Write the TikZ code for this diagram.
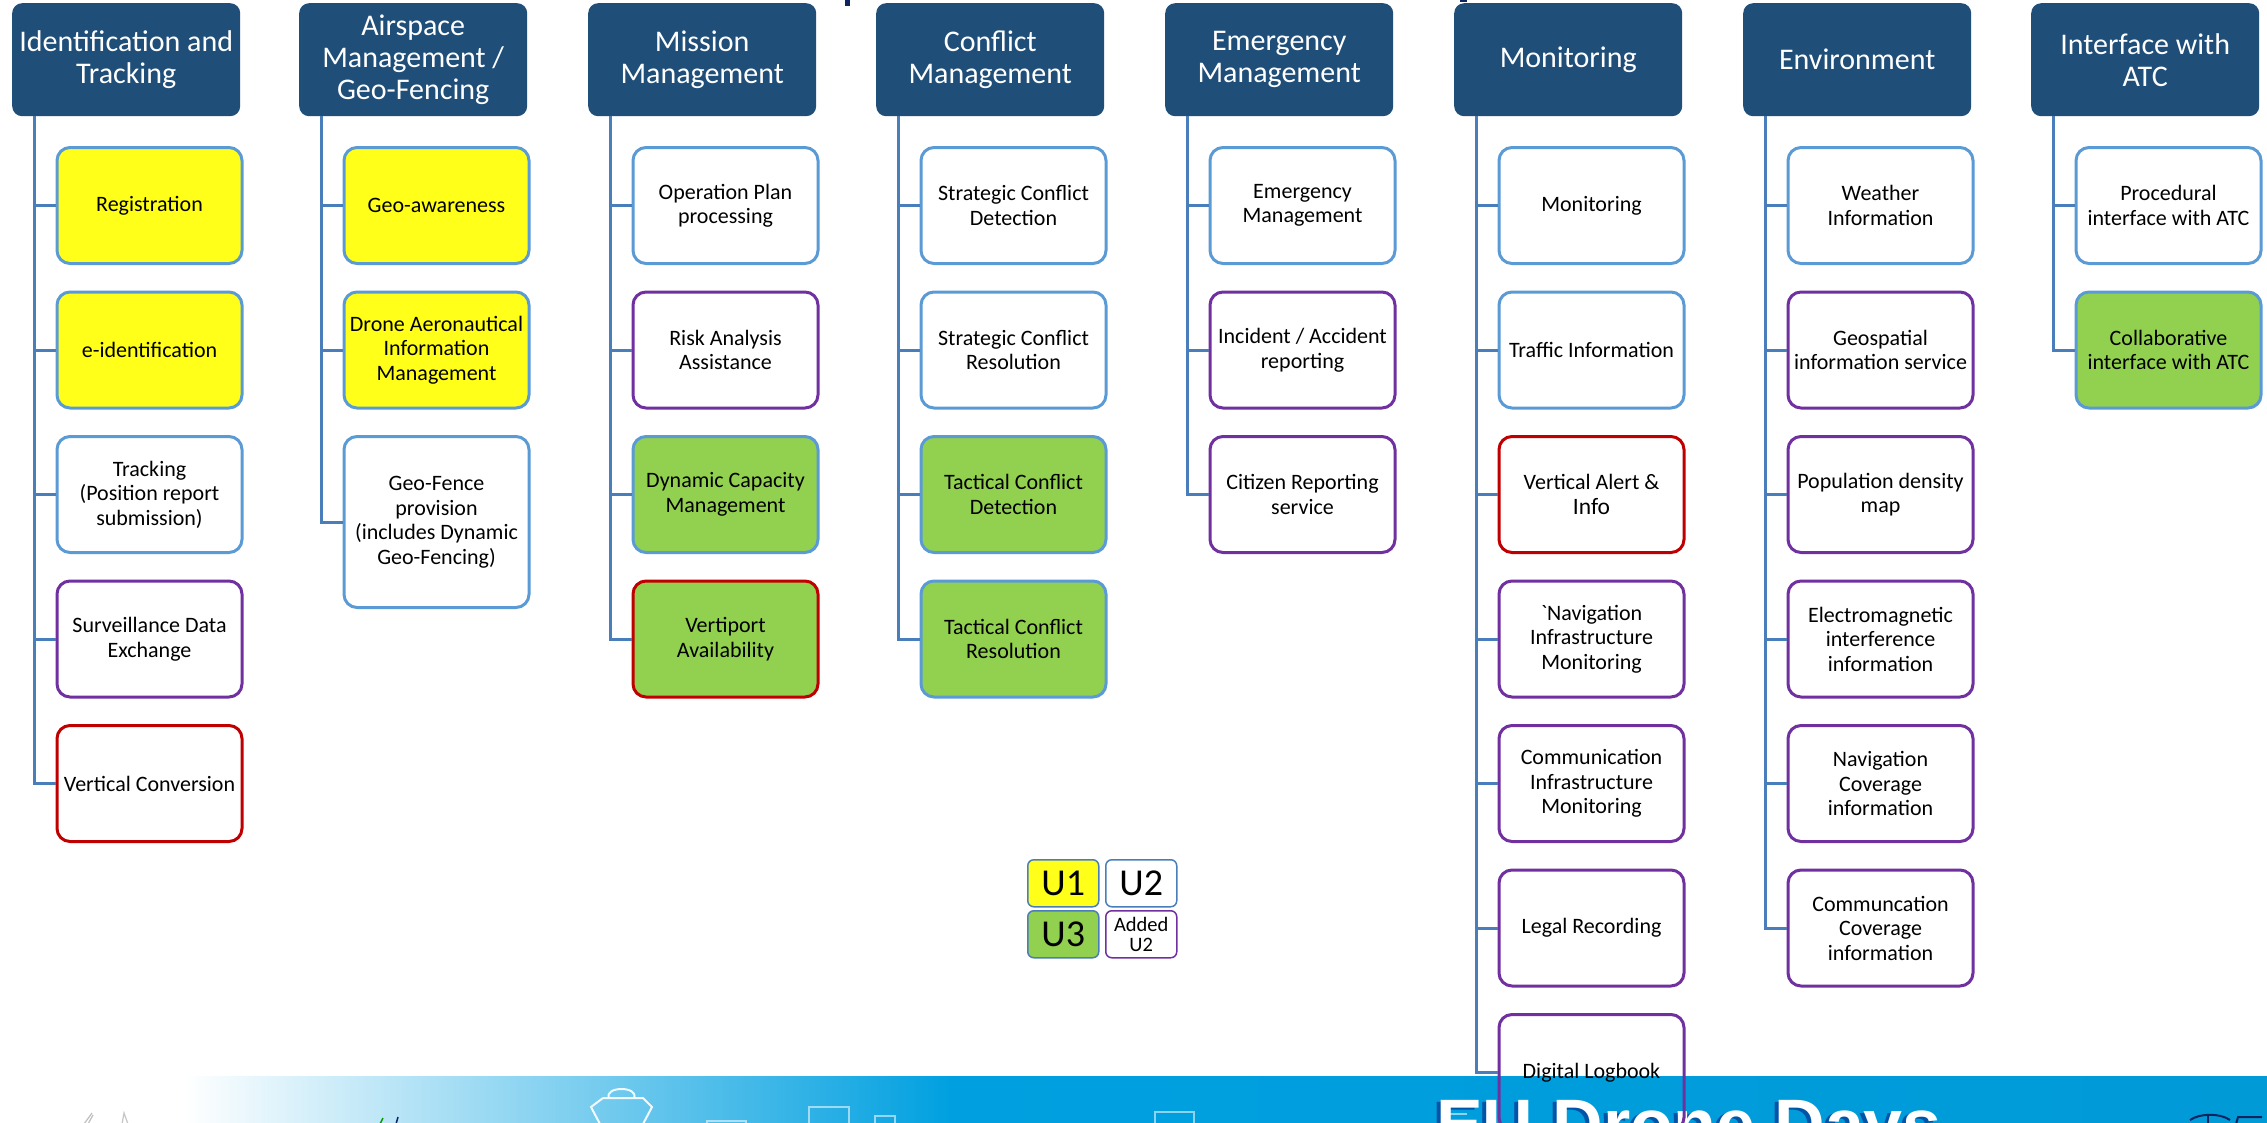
\documentclass[tikz,border=0pt]{standalone}
\usepackage{fontspec}
\setmainfont{Carlito}
\newfontfamily\bandfont{Liberation Sans}
\definecolor{hdr}{RGB}{31,78,121}
\definecolor{lnk}{RGB}{74,126,187}
\definecolor{bbd}{RGB}{91,155,213}
\definecolor{purp}{RGB}{112,48,160}
\definecolor{redb}{RGB}{192,0,0}
\definecolor{yel}{RGB}{255,255,26}
\definecolor{grn}{RGB}{146,208,80}
\definecolor{bandblue}{RGB}{0,160,224}
\definecolor{navy}{RGB}{12,36,96}
\definecolor{shadowblue}{RGB}{0,84,168}
\newcommand\hdfont{\fontsize{30}{32}\selectfont}
\newcommand\itfont{\fontsize{22}{24.5}\selectfont}
\newcommand\lgfont{\fontsize{38}{38}\selectfont}
\newcommand\lgsmall{\fontsize{20.5}{19.5}\selectfont}
\tikzset{
  head/.style={fill=hdr, rounded corners=10pt, minimum width=228pt,
    minimum height=113pt, text=white, font=\hdfont, align=center,
    anchor=north west, inner sep=0pt},
  item/.style={draw=bbd, fill=white, line width=3pt, rounded corners=13pt,
    minimum width=185pt, minimum height=116pt, font=\itfont, align=center,
    anchor=north west, inner sep=1pt},
  u1/.style={fill=yel},
  u3/.style={fill=grn},
  addu2/.style={draw=purp},
  vert/.style={draw=redb},
  link/.style={draw=lnk, line width=3pt},
  leg/.style={draw=lnk, line width=1.5pt, rounded corners=6pt,
    minimum width=71pt, minimum height=47pt, anchor=north west,
    inner sep=0pt, align=center, font=\lgfont},
  icon/.style={draw=white, line width=2pt, draw opacity=0.55}
}
\begin{document}
\begin{tikzpicture}[x=1pt, y=-1pt]
\useasboundingbox (0,0) rectangle (2267,1122);
\fill[white] (0,0) rectangle (2267,1130);

% footer band
\shade[left color=white, right color=bandblue] (184,1076) rectangle (950,1130);
\shade[left color=bandblue, right color=bandblue!96!black] (949,1076) rectangle (2267,1130);
% faint outlines in the band
\draw[draw=white, line width=2pt, draw opacity=0.9] (609,1098) .. controls (604,1086) and (639,1086) .. (634,1098)
  (603,1098) -- (643,1098) -- (652,1107) -- (643,1124) (603,1098) -- (591,1107) -- (600,1124);
\draw[icon] (707,1124) -- (707,1121) -- (746,1121) -- (746,1124);
\draw[icon] (809,1124) -- (809,1107) -- (849,1107) -- (849,1124);
\draw[icon] (875,1124) -- (875,1116) -- (895,1116) -- (895,1124);
\draw[icon] (1155,1124) -- (1155,1112) -- (1194,1112) -- (1194,1124);
\draw[icon] (1449,1124) -- (1449,1114) -- (1467,1114);
% small marks at the left of the band
\draw[gray!50, line width=1.2pt] (84,1124) -- (92,1113) (88,1124) -- (93,1115);
\draw[gray!45, line width=1.2pt] (122,1124) -- (124,1113) -- (128,1124);
\draw[green!60!black, line width=1.5pt] (380,1124) -- (383,1118);
\draw[navy, line width=1.5pt] (396,1124) -- (398,1117);
% drone at the right
\draw[navy, line width=2pt] (2190,1120) .. controls (2200,1113) and (2220,1113) .. (2230,1120);
\draw[navy, line width=2pt] (2208,1114) -- (2208,1124);
\draw[navy, line width=2pt] (2236,1124) -- (2238,1117) -- (2262,1117);

% footer title
\node[anchor=base west, inner sep=0pt, text=shadowblue,
  font=\bandfont\bfseries\fontsize{70}{70}\selectfont] (eushadow) at (1432,1150) {EU Drone Days};
\node[anchor=base west, inner sep=0pt, text=white,
  font=\bandfont\bfseries\fontsize{70}{70}\selectfont] (eu) at (1436,1148) {EU Drone Days};

% ends of the title letters above
\fill[navy] (845,0) rectangle (850,6);
\fill[navy] (1460,0) rectangle (1467,2);

% column headers
\node[head] (h0) at (12,3)   {Identification and\\Tracking};
\node[head] (h1) at (299,3)  {Airspace\\Management /\\Geo-Fencing};
\node[head] (h2) at (588,3)  {Mission\\Management};
\node[head] (h3) at (876,3)  {Conflict\\Management};
\node[head] (h4) at (1165,3) {Emergency\\Management};
\node[head] (h5) at (1454,3) {Monitoring};
\node[head] (h6) at (1743,3) {Environment};
\node[head] (h7) at (2031,3) {Interface with\\ATC};

% Identification and Tracking
\node[item,u1] (a1) at (55.5,146)   {Registration};
\node[item,u1] (a2) at (55.5,290.5) {e-identification};
\node[item]    (a3) at (55.5,435)   {Tracking\\(Position report\\submission)};
\node[item,addu2] (a4) at (55.5,579.5) {Surveillance Data\\Exchange};
\node[item,vert]  (a5) at (55.5,724)   {Vertical Conversion};

% Airspace Management / Geo-Fencing
\node[item,u1] (b1) at (342.5,146)   {Geo-awareness};
\node[item,u1] (b2) at (342.5,290.5) {Drone Aeronautical\\Information\\Management};
\node[item, minimum height=171pt] (b3) at (342.5,435) {Geo-Fence\\provision\\(includes Dynamic\\Geo-Fencing)};

% Mission Management
\node[item]       (c1) at (631.5,146)   {Operation Plan\\processing};
\node[item,addu2] (c2) at (631.5,290.5) {Risk Analysis\\Assistance};
\node[item,u3]    (c3) at (631.5,435)   {Dynamic Capacity\\Management};
\node[item,u3,vert] (c4) at (631.5,579.5) {Vertiport\\Availability};

% Conflict Management
\node[item]    (d1) at (919.5,146)   {Strategic Conflict\\Detection};
\node[item]    (d2) at (919.5,290.5) {Strategic Conflict\\Resolution};
\node[item,u3] (d3) at (919.5,435)   {Tactical Conflict\\Detection};
\node[item,u3] (d4) at (919.5,579.5) {Tactical Conflict\\Resolution};

% Emergency Management
\node[item]       (e1) at (1208.5,146)   {Emergency\\Management};
\node[item,addu2] (e2) at (1208.5,290.5) {Incident / Accident\\reporting};
\node[item,addu2] (e3) at (1208.5,435)   {Citizen Reporting\\service};

% Monitoring
\node[item]       (f1) at (1497.5,146)   {Monitoring};
\node[item]       (f2) at (1497.5,290.5) {Traffic Information};
\node[item,vert]  (f3) at (1497.5,435)   {Vertical Alert \&\\{\fontsize{23.5}{24.5}\selectfont Info}};
\node[item,addu2] (f4) at (1497.5,579.5) {\textasciigrave Navigation\\Infrastructure\\Monitoring};
\node[item,addu2] (f5) at (1497.5,724)   {Communication\\Infrastructure\\Monitoring};
\node[item,addu2] (f6) at (1497.5,868.5) {Legal Recording};
\node[item,addu2,fill=none] (f7) at (1497.5,1013) {Digital Logbook};

% Environment
\node[item]       (g1) at (1786.5,146)   {Weather\\Information};
\node[item,addu2] (g2) at (1786.5,290.5) {Geospatial\\information service};
\node[item,addu2] (g3) at (1786.5,435)   {Population density\\map};
\node[item,addu2] (g4) at (1786.5,579.5) {Electromagnetic\\interference\\information};
\node[item,addu2] (g5) at (1786.5,724)   {Navigation\\Coverage\\information};
\node[item,addu2] (g6) at (1786.5,868.5) {Communcation\\Coverage\\information};

% Interface with ATC
\node[item]    (k1) at (2074.5,146)   {Procedural\\interface with ATC};
\node[item,u3] (k2) at (2074.5,290.5) {Collaborative\\interface with ATC};

% connectors from each header to its items
\foreach \h/\last/\rest in {h0/a5/{a1,a2,a3,a4}, h1/b3/{b1,b2}, h2/c4/{c1,c2,c3},
    h3/d4/{d1,d2,d3}, h4/e3/{e1,e2}, h5/f7/{f1,f2,f3,f4,f5,f6},
    h6/g6/{g1,g2,g3,g4,g5}, h7/k2/{k1}} {
  \coordinate (t-\h) at ([xshift=22pt]\h.south west);
  \draw[link] (t-\h) |- (\last.west);
  \foreach \n in \rest {
    \draw[link] (\n.west -| t-\h) -- (\n.west);
  }
}

% legend
\node[leg, fill=yel]   (l1) at (1027,859) {U1};
\node[leg, fill=white] (l2) at (1105,859) {U2};
\node[leg, fill=grn]   (l3) at (1027,910) {U3};
\node[leg, fill=white, draw=purp, font=\lgsmall] (l4) at (1105,910) {Added\\U2};
\end{tikzpicture}
\end{document}
